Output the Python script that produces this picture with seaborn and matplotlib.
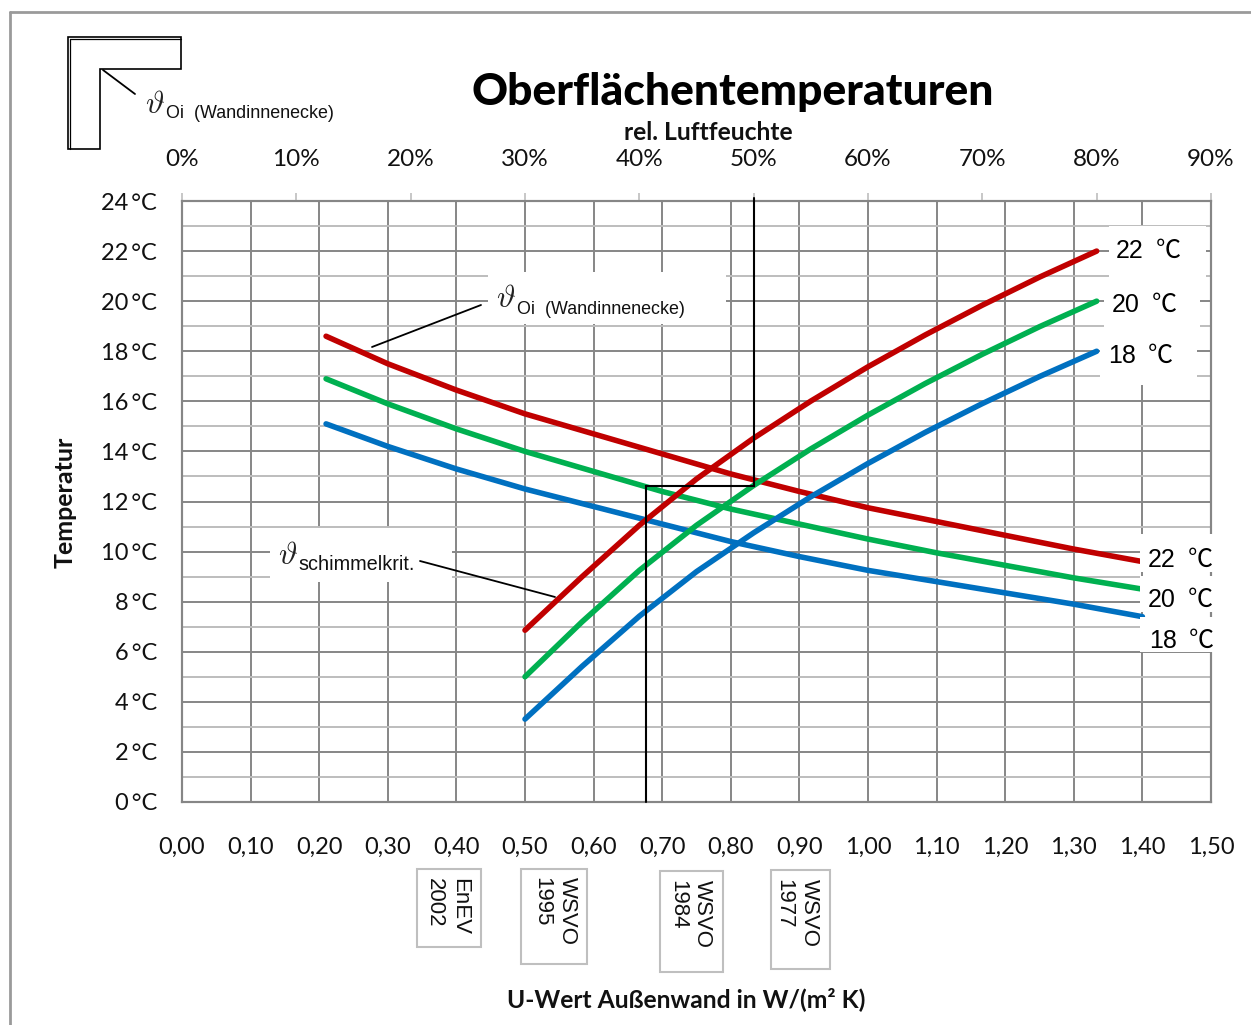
import matplotlib

matplotlib.use("Agg")
import matplotlib.pyplot as plt
import pandas as pd
import seaborn as sns
from matplotlib.lines import Line2D
from matplotlib.patches import Polygon, Rectangle
from matplotlib.ticker import FuncFormatter

# falling curves: surface temperature in the wall corner over the U value
u_values = [0.21, 0.30, 0.40, 0.50, 0.60, 0.70, 0.80, 0.90, 1.00, 1.10, 1.20, 1.30, 1.40]
corner_22 = [18.6, 17.5, 16.45, 15.5, 14.7, 13.9, 13.1, 12.4, 11.75, 11.2, 10.65, 10.1, 9.6]
corner_20 = [16.9, 15.9, 14.9, 14.0, 13.2, 12.4, 11.7, 11.1, 10.5, 9.95, 9.45, 8.95, 8.5]
corner_18 = [15.1, 14.2, 13.3, 12.5, 11.8, 11.1, 10.4, 9.8, 9.25, 8.8, 8.35, 7.9, 7.4]

# rising curves: critical temperature for mould over relative humidity
rh_values = [30, 35, 40, 45, 50, 55, 60, 65, 70, 75, 80]
mould_22 = [6.86, 9.0, 11.05, 12.9, 14.53, 16.01, 17.38, 18.65, 19.84, 20.96, 22.0]
mould_20 = [5.0, 7.2, 9.25, 11.05, 12.64, 14.1, 15.45, 16.71, 17.88, 18.98, 20.0]
mould_18 = [3.31, 5.42, 7.42, 9.2, 10.75, 12.19, 13.52, 14.76, 15.91, 16.99, 18.0]

room_temps = ["22", "20", "18"]
line_colors = ["#C00000", "#00B050", "#0070C0"]

# worked example drawn in black
example_rh = [50, 50, 40.6, 40.6]
example_temp = [24.1, 12.63, 12.63, 0]

x_ticks = [0.0, 0.1, 0.2, 0.3, 0.4, 0.5, 0.6, 0.7, 0.8, 0.9, 1.0, 1.1, 1.2, 1.3, 1.4, 1.5]
y_ticks = [0, 2, 4, 6, 8, 10, 12, 14, 16, 18, 20, 22, 24]
y_minor = [1, 3, 5, 7, 9, 11, 13, 15, 17, 19, 21, 23]
rh_ticks = [0, 10, 20, 30, 40, 50, 60, 70, 80, 90]

standards = ["EnEV\n2002", "WSVO\n1995", "WSVO\n1984", "WSVO\n1977"]

W, H = 1251, 1025
GRID_DARK = "#868686"
GRID_LIGHT = "#BDBDBD"
ARIAL = ["Liberation Sans", "Noto Sans CJK SC", "DejaVu Sans"]

sns.set_theme(style="white")
plt.rcParams["font.family"] = ["Lato", "DejaVu Sans"]
plt.rcParams["mathtext.fontset"] = "cm"


def fx(x):
    return x / W


def fy(y):
    return 1 - y / H


def corners(x0, y0, x1, y1):
    return Rectangle((fx(x0), fy(y1)), (x1 - x0) / W, (y1 - y0) / H, transform=fig.transFigure)


def mask(x0, y0, x1, y1):
    box = corners(x0, y0, x1, y1)
    box.set(facecolor="white", edgecolor="none", zorder=5)
    fig.add_artist(box)


def pix_line(xs, ys, color="black", lw=1.3, zorder=7):
    fig.add_artist(
        Line2D([fx(x) for x in xs], [fy(y) for y in ys], color=color, lw=lw, zorder=zorder,
               transform=fig.transFigure, solid_joinstyle="miter")
    )


def pix_text(x, y, s, **kws):
    kws.setdefault("ha", "left")
    kws.setdefault("va", "center")
    fig.text(fx(x), fy(y), s, zorder=8, **kws)


def theta_label(x_theta, y_theta, x_sub, y_sub, s, size):
    pix_text(x_theta, y_theta, r"$\vartheta$", fontsize=23, color="#222222")
    pix_text(x_sub, y_sub, s, fontsize=size, family=ARIAL, color="#111111")


fig = plt.figure(figsize=(W / 100, H / 100), dpi=100)
ax = fig.add_axes([fx(182), fy(802), (1211 - 182) / W, (802 - 201) / H])
ax2 = ax.twiny()
ax2.set_zorder(ax.get_zorder() + 1)
ax2.patch.set_visible(False)

df_corner = pd.DataFrame(
    {"u": u_values * 3, "temp": corner_22 + corner_20 + corner_18,
     "room": [r for r in room_temps for _ in u_values]}
)
df_mould = pd.DataFrame(
    {"rh": rh_values * 3, "temp": mould_22 + mould_20 + mould_18,
     "room": [r for r in room_temps for _ in rh_values]}
)

sns.lineplot(data=df_corner, x="u", y="temp", hue="room", hue_order=room_temps, palette=line_colors,
             linewidth=4, legend=False, estimator=None, solid_capstyle="round", ax=ax, zorder=3)
sns.lineplot(data=df_mould, x="rh", y="temp", hue="room", hue_order=room_temps, palette=line_colors,
             linewidth=4, legend=False, estimator=None, solid_capstyle="round", ax=ax2, zorder=3)
ax2.plot(example_rh, example_temp, color="black", lw=1.5, zorder=4, clip_on=False,
         solid_joinstyle="miter")

ax.set(xlim=(0, 1.5), ylim=(0, 24), xlabel="", ylabel="")
ax2.set(xlim=(0, 90), xlabel="", ylabel="")
ax.set_xticks(x_ticks)
ax.set_yticks(y_ticks)
ax.set_yticks(y_minor, minor=True)
ax.xaxis.set_major_formatter(FuncFormatter(lambda v, _: f"{v:.2f}".replace(".", ",")))
ax.yaxis.set_major_formatter(FuncFormatter(lambda v, _: f"{v:.0f}\u2009°C"))
ax.grid(True, which="major", color=GRID_DARK, lw=1.4)
ax.grid(True, which="minor", axis="y", color=GRID_LIGHT, lw=1.4)
ax.set_axisbelow(True)
ax.tick_params(axis="x", which="major", length=0, pad=25, labelsize=17, colors="#111111")
ax.tick_params(axis="y", which="major", length=0, pad=18, labelsize=17, colors="#111111")
ax.tick_params(axis="y", which="minor", length=0)

ax2.set_xticks(rh_ticks)
ax2.xaxis.set_major_formatter(FuncFormatter(lambda v, _: f"{v:.0f}%"))
ax2.xaxis.tick_top()
ax2.tick_params(axis="x", length=5.5, width=1.2, color=GRID_LIGHT, pad=17, labelsize=17.5,
                labelcolor="#111111")
ax2.grid(False)
for axis in [ax, ax2]:
    for spine in axis.spines.values():
        spine.set_color(GRID_DARK)
        spine.set_linewidth(1.5)

# white boxes behind the annotations hide grid and curve ends
mask(488, 272, 726, 324)
mask(270, 528, 452, 582)
mask(1109, 226, 1206, 278)
mask(1104, 278, 1200, 328)
mask(1100, 328, 1197, 385)
mask(1140, 534, 1214, 572)
mask(1140, 576, 1214, 612)
mask(1140, 617, 1214, 652)

# frame around the whole picture
pix_line([10, 10], [1025, 12], color="#9A9A9A", lw=2)
pix_line([10, 1251], [12, 12], color="#9A9A9A", lw=2)

# wall corner icon
wall = [(68, 37), (181, 37), (181, 69), (100, 69), (100, 149), (68, 149)]
fig.add_artist(
    Polygon([(fx(x), fy(y)) for x, y in wall], closed=True, facecolor="white", edgecolor="black",
            lw=1.2, transform=fig.transFigure, zorder=6)
)
pix_line([70, 70], [149, 39], lw=0.9)
pix_line([70, 181], [39, 39], lw=0.9)
pix_line([103, 135], [70, 94])
theta_label(145, 104, 166, 114, "Oi  (Wandinnenecke)", 12.85)

pix_line([372, 481], [347, 305])
theta_label(496, 298, 517, 309, "Oi  (Wandinnenecke)", 12.85)
pix_line([420, 555], [561, 597])
theta_label(278, 555, 298, 564, "schimmelkrit.", 14.3)

# room temperature labels at the curve ends
for x, y, room in [(1116, 251, 22), (1112, 305, 20), (1108, 356, 18),
                   (1148, 560, 22), (1148, 600, 20), (1149, 641, 18)]:
    pix_text(x, y, room, fontsize=18, family=ARIAL, color="black")
    pix_text(x + 40, y, "℃", fontsize=18, family="Noto Sans CJK SC", color="black")

# building standard boxes below the axis
boxes = [(417, 869, 481, 947, 447, 878), (521, 869, 587, 964, 554.5, 877),
         (660, 871, 723, 972, 690, 880), (771, 870, 830, 969, 796.5, 879)]
for (x0, y0, x1, y1, xt, yt), label in zip(boxes, standards):
    box = corners(x0, y0, x1, y1)
    box.set(facecolor="white", edgecolor="#BFBFBF", lw=1.5, zorder=6)
    fig.add_artist(box)
    pix_text(xt, yt, label, fontsize=16, family=ARIAL, rotation=270, ha="center", va="top",
             linespacing=1.25, multialignment="left", color="#111111")

pix_text(733, 92, "Oberflächentemperaturen", fontsize=32, weight="black", ha="center", color="black")
pix_text(708, 132, "rel. Luftfeuchte", fontsize=17.7, weight="bold", ha="center", color="#111111")
pix_text(686, 999, "U-Wert Außenwand in W/(m² K)", fontsize=17.7, weight="bold", ha="center",
         color="#111111")
pix_text(65, 502, "Temperatur", fontsize=18, weight="bold", ha="center", rotation=90, color="#111111")

fig.savefig("out.png", dpi=100, facecolor="white")
